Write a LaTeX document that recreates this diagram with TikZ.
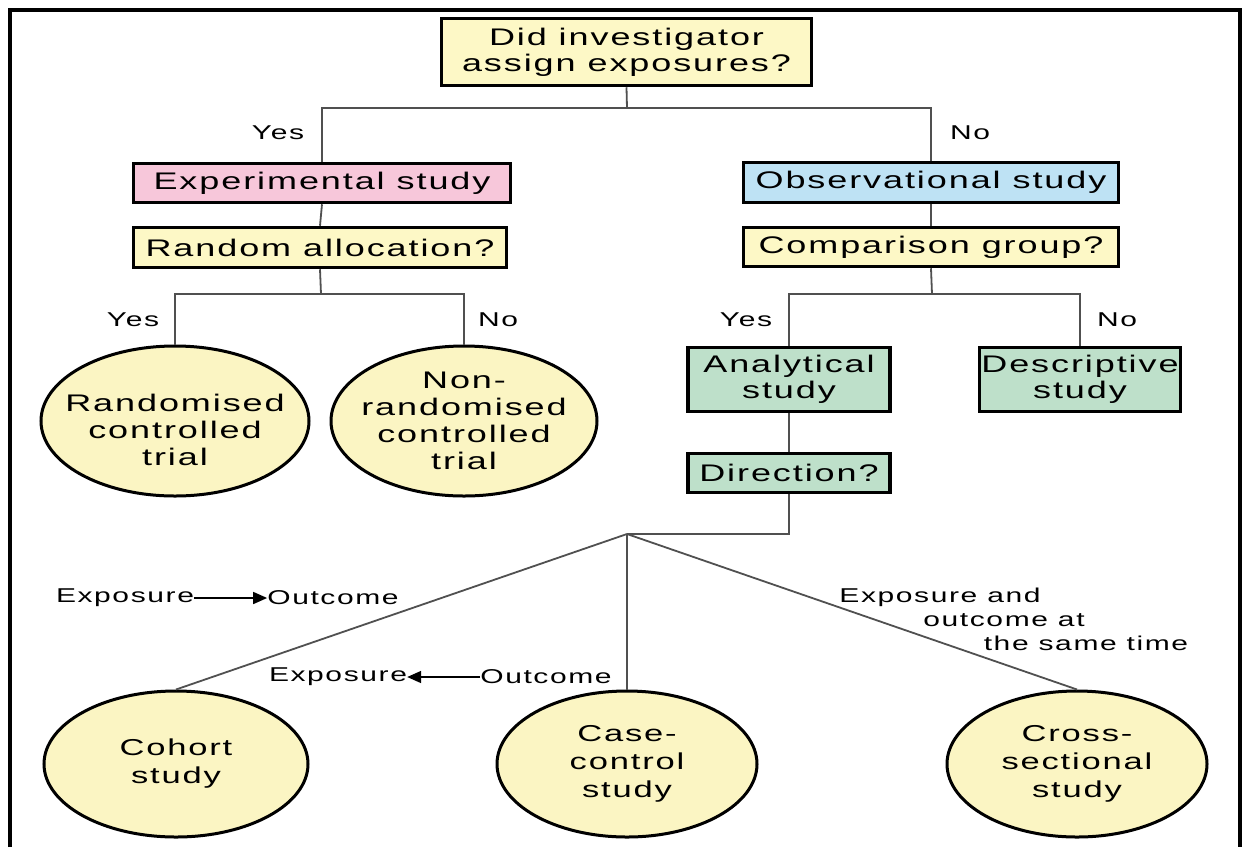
\documentclass[tikz,border=0pt]{standalone}
\usepackage{fontspec}
\setmainfont{Liberation Sans}[FakeStretch=1.5,LetterSpace=8]
\usetikzlibrary{shapes.geometric,arrows.meta}
\definecolor{boxyellow}{HTML}{FDF8C6}
\definecolor{boxpink}{HTML}{F7C7DA}
\definecolor{boxblue}{HTML}{BEE2F4}
\definecolor{boxgreen}{HTML}{BEE0CA}
\definecolor{circyellow}{HTML}{FBF5C3}
\definecolor{conn}{HTML}{505050}
\begin{document}
\begin{tikzpicture}[x=1pt,y=-1pt,
  qbox/.style={draw=black, line width=3.5pt, rectangle, align=center, inner sep=0pt, font=\fontsize{24}{26}\selectfont},
  oval/.style={draw=black, line width=3pt, ellipse, fill=circyellow, inner sep=0pt},
  ovaltext/.style={align=center, inner sep=0pt, font=\fontsize{24}{27}\selectfont},
  lbl/.style={font=\fontsize{20}{23}\selectfont, inner sep=0pt},
  link/.style={draw=conn, line width=1.8pt},
  arr/.style={draw=black, line width=1.6pt, -{Triangle[length=14pt,width=12pt]}},
  frame/.style={draw=black, line width=4pt}
]
\useasboundingbox (0,0) rectangle (1242,847);
\fill[white] (0,0) rectangle (1242,847);
\draw[frame] (10,847) -- (10,10) -- (1240,10) -- (1240,847);

% boxes
\node[qbox, fill=boxyellow, minimum width=370pt, minimum height=67pt] (top) at (626.5,52) {Did investigator\\assign exposures?};
\node[qbox, fill=boxpink, minimum width=377pt, minimum height=39pt] (exp) at (322,183) {Experimental study};
\node[qbox, fill=boxyellow, minimum width=373pt, minimum height=40pt] (rand) at (320,247.5) {Random allocation?};
\node[qbox, fill=boxblue, minimum width=375pt, minimum height=40pt] (obs) at (931,182.5) {Observational study};
\node[qbox, fill=boxyellow, minimum width=375pt, minimum height=39pt] (comp) at (931,247) {Comparison group?};
\node[qbox, fill=boxgreen, minimum width=202pt, minimum height=64pt] (ana) at (789,379.5) {Analytical\\study};
\node[qbox, fill=boxgreen, minimum width=201pt, minimum height=64pt] (desc) at (1080,379.5) {Descriptive\\study};
\node[qbox, fill=boxgreen, minimum width=202pt, minimum height=39pt] (dir) at (789,473) {Direction?};

% ovals
\node[oval, minimum width=268pt, minimum height=150pt] (rct) at (175,421) {};
\node[ovaltext] (rctT) at ([yshift=-9pt]rct.center) {Randomised\\controlled\\trial};
\node[oval, minimum width=266pt, minimum height=150pt] (nrct) at (464,421) {};
\node[ovaltext] (nrctT) at (nrct.center) {Non-\\randomised\\controlled\\trial};
\node[oval, minimum width=264pt, minimum height=146pt] (coh) at (176,764) {};
\node[ovaltext, font=\fontsize{23}{28}\selectfont] (cohT) at (coh.center) {Cohort\\study};
\node[oval, minimum width=260pt, minimum height=146pt] (cc) at (627,764) {};
\node[ovaltext, font=\fontsize{23}{28}\selectfont] (ccT) at (cc.center) {Case-\\control\\study};
\node[oval, minimum width=260pt, minimum height=146pt] (cs) at (1077,764) {};
\node[ovaltext, font=\fontsize{23}{28}\selectfont] (csT) at (cs.center) {Cross-\\sectional\\study};

% junctions
\coordinate (j1) at (627,108);
\coordinate (j2) at (321,294);
\coordinate (j3) at (932,294);
\coordinate (fan) at (627,534);

% connectors
\draw[link] (top.south) -- (j1);
\draw[link] (exp.north) |- (j1) -| (obs.north);
\draw[link] (exp.south) -- (rand.north);
\draw[link] (rand.south) -- (j2);
\draw[link] (rct.north) |- (j2) -| (nrct.north);
\draw[link] (obs.south) -- (comp.north);
\draw[link] (comp.south) -- (j3);
\draw[link] (ana.north) |- (j3) -| (desc.north);
\draw[link] (ana.south) -- (dir.north);
\draw[link] (dir.south) |- (fan);
\draw[link] (fan) -- (coh.north);
\draw[link] (fan) -- (cc.north);
\draw[link] (fan) -- (cs.north);

% branch labels
\node[lbl] (y1) at (278,133) {Yes};
\node[lbl] (n1) at (970,133) {No};
\node[lbl] (y2) at (133,320) {Yes};
\node[lbl] (n2) at (498,320) {No};
\node[lbl] (y3) at (746,320) {Yes};
\node[lbl] (n3) at (1117,320) {No};

% direction labels
\node[lbl] (e1) at (125,598) {Exposure};
\node[lbl] (o1) at (333,598) {Outcome};
\draw[arr] (e1.east) -- (o1.west);
\node[lbl] (e2) at (338,677) {Exposure};
\node[lbl] (o2) at (546,677) {Outcome};
\draw[arr] (o2.west) -- (e2.east);
\node[lbl] (t1) at (940,597) {Exposure and};
\node[lbl] (t2) at (1004,620) {outcome at};
\node[lbl] (t3) at (1086,643) {the same time};
\end{tikzpicture}
\end{document}
